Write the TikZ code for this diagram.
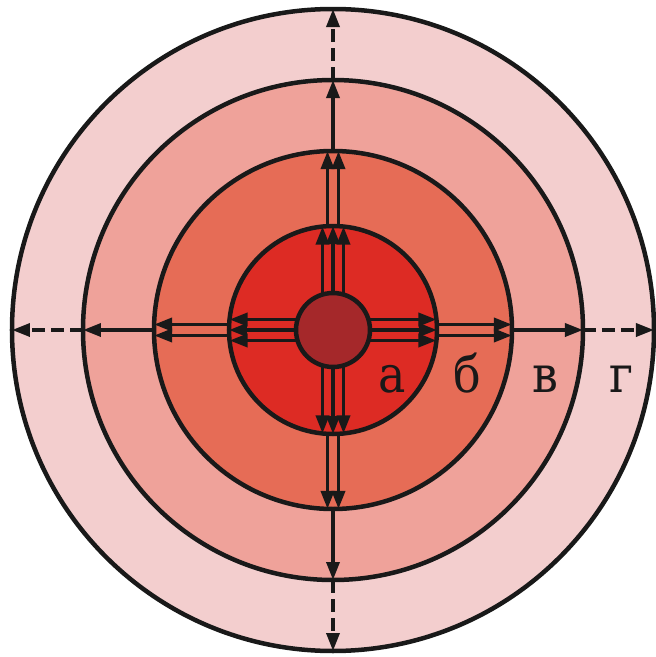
\documentclass[tikz,border=0pt]{standalone}
\usepackage{fontspec}
\newfontfamily\zoneserif{DejaVu Serif Condensed}
\usetikzlibrary{arrows.meta}
\definecolor{zoneG}{RGB}{243,206,206}
\definecolor{zoneV}{RGB}{239,162,154}
\definecolor{zoneB}{RGB}{230,108,86}
\definecolor{zoneA}{RGB}{221,43,36}
\definecolor{coreRed}{RGB}{165,40,42}
\begin{document}
\begin{tikzpicture}[x=1pt, y=1pt,
  ring/.style={circle, draw=black!90, line width=4.5pt, inner sep=0pt},
  flow/.style={line width=3.5pt, draw=black!90, -{Triangle[length=18pt,width=13pt]}},
  zonetext/.style={font=\zoneserif\fontsize{51}{51}\selectfont, anchor=base, inner sep=0pt, text=black!90}]
  \useasboundingbox (-333,-327) rectangle (323,330);

  % zones, from outside in
  \node[ring, fill=zoneG, minimum size=642pt] (g) at (0,0) {};
  \node[ring, fill=zoneV, minimum size=500pt] (v) at (0,0) {};
  \node[ring, fill=zoneB, minimum size=358pt] (b) at (0,0) {};
  \node[ring, fill=zoneA, minimum size=208pt] (a) at (0,0) {};

  % flows in the four directions
  \foreach \ang in {0,90,180,270} {
    \begin{scope}[rotate=\ang]
      \foreach \d in {-10.5,0,10.5}
        \draw[flow] ({37*sqrt(1-(\d/37)^2)},\d) -- ({104*sqrt(1-(\d/104)^2)},\d);
      \foreach \d in {-5.5,5.5}
        \draw[flow] ({104*sqrt(1-(\d/104)^2)},\d) -- ({179*sqrt(1-(\d/179)^2)},\d);
      \draw[flow] (179,0) -- (250,0);
      \draw[flow, dash pattern=on 13pt off 6pt] (250,0) -- (321,0);
    \end{scope}
  }

  \node[ring, fill=coreRed, minimum size=74pt] (core) at (0,0) {};

  \node[zonetext] (la) at (59,-62)  {а};
  \node[zonetext] (lb) at (134,-62) {б};
  \node[zonetext] (lv) at (212,-62) {в};
  \node[zonetext] (lg) at (289,-62) {г};
\end{tikzpicture}
\end{document}
